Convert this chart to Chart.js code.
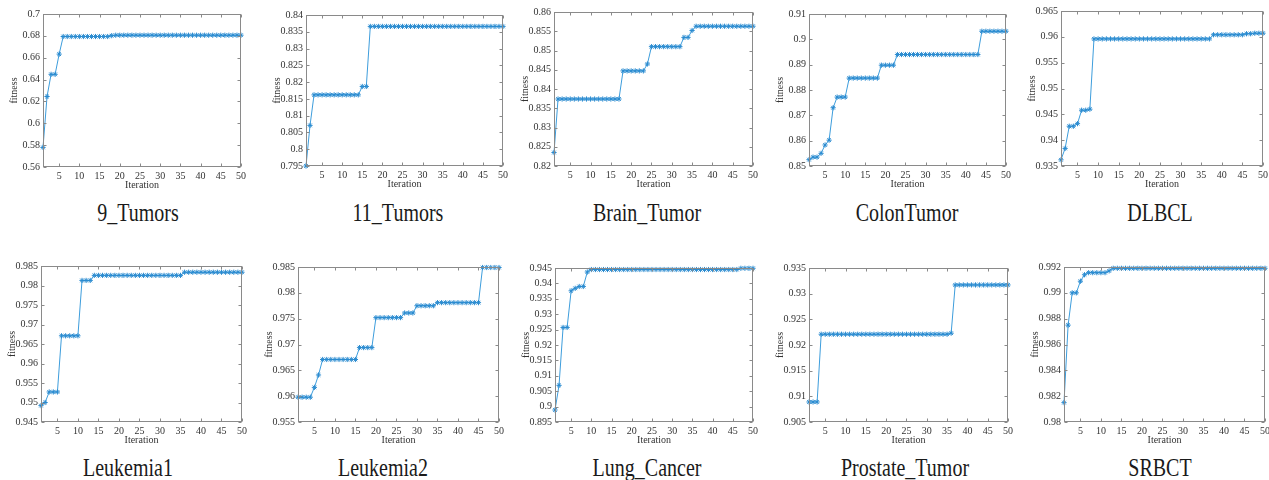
<!DOCTYPE html>
<html>
<head>
<meta charset="utf-8">
<script src="https://cdn.jsdelivr.net/npm/chart.js@4.4.1/dist/chart.umd.min.js"></script>
<style>
  html, body { margin: 0; padding: 0; background: #fff; }
  #wrap { position: relative; width: 1269px; height: 480px; overflow: hidden; }
  #wrap canvas { position: absolute; }
  .cap {
    position: absolute;
    font-family: "Liberation Serif", "Times New Roman", serif;
    font-size: 20px;
    color: #1a1a1a;
    white-space: nowrap;
    transform: translate(-50%, -50%) scaleY(1.3);
  }
</style>
</head>
<body>
<div id="wrap"></div>
<script>
// iterations (x axis)
const iterations = [1, 2, 3, 4, 5, 6, 7, 8, 9, 10, 11, 12, 13, 14, 15, 16, 17, 18, 19, 20,
  21, 22, 23, 24, 25, 26, 27, 28, 29, 30, 31, 32, 33, 34, 35, 36, 37, 38, 39, 40,
  41, 42, 43, 44, 45, 46, 47, 48, 49, 50];
const xTicks = [5, 10, 15, 20, 25, 30, 35, 40, 45, 50];

// fitness per dataset
const nineTumors = [0.5779, 0.6245, 0.6448, 0.6448, 0.6633, 0.6794, 0.6794, 0.6794, 0.6794, 0.6794,
  0.6794, 0.6794, 0.6794, 0.6794, 0.6794, 0.6794, 0.6794, 0.6802, 0.6806, 0.6806,
  0.6806, 0.6806, 0.6806, 0.6806, 0.6806, 0.6806, 0.6806, 0.6806, 0.6806, 0.6806,
  0.6806, 0.6806, 0.6806, 0.6806, 0.6806, 0.6806, 0.6806, 0.6806, 0.6806, 0.6806,
  0.6806, 0.6806, 0.6806, 0.6806, 0.6806, 0.6806, 0.6806, 0.6806, 0.6806, 0.6806];
const elevenTumors = [0.795, 0.8071, 0.8162, 0.8162, 0.8162, 0.8162, 0.8162, 0.8162, 0.8162, 0.8162,
  0.8162, 0.8162, 0.8162, 0.8162, 0.8187, 0.8187, 0.8366, 0.8366, 0.8366, 0.8366,
  0.8366, 0.8366, 0.8366, 0.8366, 0.8366, 0.8366, 0.8366, 0.8366, 0.8366, 0.8366,
  0.8366, 0.8366, 0.8366, 0.8366, 0.8366, 0.8366, 0.8366, 0.8366, 0.8366, 0.8366,
  0.8366, 0.8366, 0.8366, 0.8366, 0.8366, 0.8366, 0.8366, 0.8366, 0.8366, 0.8366];
const brainTumor = [0.8235, 0.8374, 0.8374, 0.8374, 0.8374, 0.8374, 0.8374, 0.8374, 0.8374, 0.8374,
  0.8374, 0.8374, 0.8374, 0.8374, 0.8374, 0.8374, 0.8374, 0.8447, 0.8447, 0.8447,
  0.8447, 0.8447, 0.8447, 0.8465, 0.851, 0.851, 0.851, 0.851, 0.851, 0.851,
  0.851, 0.851, 0.8534, 0.8534, 0.8552, 0.8563, 0.8563, 0.8563, 0.8563, 0.8563,
  0.8563, 0.8563, 0.8563, 0.8563, 0.8563, 0.8563, 0.8563, 0.8563, 0.8563, 0.8563];
const colonTumor = [0.8525, 0.8535, 0.8535, 0.855, 0.8583, 0.8602, 0.873, 0.8772, 0.8772, 0.8772,
  0.8847, 0.8847, 0.8847, 0.8847, 0.8847, 0.8847, 0.8847, 0.8847, 0.8898, 0.8898,
  0.8898, 0.8898, 0.894, 0.894, 0.894, 0.894, 0.894, 0.894, 0.894, 0.894,
  0.894, 0.894, 0.894, 0.894, 0.894, 0.894, 0.894, 0.894, 0.894, 0.894,
  0.894, 0.894, 0.894, 0.9032, 0.9032, 0.9032, 0.9032, 0.9032, 0.9032, 0.9032];
const dlbcl = [0.9362, 0.9384, 0.9427, 0.9427, 0.9432, 0.9458, 0.9458, 0.946, 0.9596, 0.9596,
  0.9596, 0.9596, 0.9596, 0.9596, 0.9596, 0.9596, 0.9596, 0.9596, 0.9596, 0.9596,
  0.9596, 0.9596, 0.9596, 0.9596, 0.9596, 0.9596, 0.9596, 0.9596, 0.9596, 0.9596,
  0.9596, 0.9596, 0.9596, 0.9596, 0.9596, 0.9596, 0.9596, 0.9604, 0.9604, 0.9604,
  0.9604, 0.9604, 0.9604, 0.9604, 0.9604, 0.9606, 0.9606, 0.9607, 0.9607, 0.9607];
const leukemia1 = [0.9492, 0.95, 0.9527, 0.9527, 0.9527, 0.9671, 0.9671, 0.9671, 0.9671, 0.9671,
  0.9813, 0.9813, 0.9813, 0.9826, 0.9826, 0.9826, 0.9826, 0.9826, 0.9826, 0.9826,
  0.9826, 0.9826, 0.9826, 0.9826, 0.9826, 0.9826, 0.9826, 0.9826, 0.9826, 0.9826,
  0.9826, 0.9826, 0.9826, 0.9826, 0.9826, 0.9834, 0.9834, 0.9834, 0.9834, 0.9834,
  0.9834, 0.9834, 0.9834, 0.9834, 0.9834, 0.9834, 0.9834, 0.9834, 0.9834, 0.9834];
const leukemia2 = [0.9598, 0.9598, 0.9598, 0.9598, 0.9617, 0.9641, 0.9671, 0.9671, 0.9671, 0.9671,
  0.9671, 0.9671, 0.9671, 0.9671, 0.9671, 0.9694, 0.9694, 0.9694, 0.9694, 0.9752,
  0.9752, 0.9752, 0.9752, 0.9752, 0.9752, 0.9752, 0.9761, 0.9761, 0.9761, 0.9775,
  0.9775, 0.9775, 0.9775, 0.9775, 0.9781, 0.9781, 0.9781, 0.9781, 0.9781, 0.9781,
  0.9781, 0.9781, 0.9781, 0.9781, 0.9781, 0.9849, 0.9849, 0.9849, 0.9849, 0.9849];
const lungCancer = [0.8989, 0.9069, 0.9257, 0.9257, 0.9376, 0.9384, 0.939, 0.939, 0.9437, 0.9445,
  0.9445, 0.9445, 0.9445, 0.9445, 0.9445, 0.9445, 0.9445, 0.9445, 0.9445, 0.9445,
  0.9445, 0.9445, 0.9445, 0.9445, 0.9445, 0.9445, 0.9445, 0.9445, 0.9445, 0.9445,
  0.9445, 0.9445, 0.9445, 0.9445, 0.9445, 0.9445, 0.9445, 0.9445, 0.9445, 0.9445,
  0.9445, 0.9445, 0.9445, 0.9445, 0.9445, 0.9445, 0.9449, 0.9449, 0.9449, 0.9449];
const prostateTumor = [0.9089, 0.9089, 0.9089, 0.9221, 0.9221, 0.9221, 0.9221, 0.9221, 0.9221, 0.9221,
  0.9221, 0.9221, 0.9221, 0.9221, 0.9221, 0.9221, 0.9221, 0.9221, 0.9221, 0.9221,
  0.9221, 0.9221, 0.9221, 0.9221, 0.9221, 0.9221, 0.9221, 0.9221, 0.9221, 0.9221,
  0.9221, 0.9221, 0.9221, 0.9221, 0.9221, 0.9223, 0.9317, 0.9317, 0.9317, 0.9317,
  0.9317, 0.9317, 0.9317, 0.9317, 0.9317, 0.9317, 0.9317, 0.9317, 0.9317, 0.9317];
const srbct = [0.9815, 0.9875, 0.99, 0.99, 0.9909, 0.9914, 0.99156, 0.99156, 0.99156, 0.99156,
  0.99156, 0.9917, 0.9919, 0.9919, 0.9919, 0.9919, 0.9919, 0.9919, 0.9919, 0.9919,
  0.9919, 0.9919, 0.9919, 0.9919, 0.9919, 0.9919, 0.9919, 0.9919, 0.9919, 0.9919,
  0.9919, 0.9919, 0.9919, 0.9919, 0.9919, 0.9919, 0.9919, 0.9919, 0.9919, 0.9919,
  0.9919, 0.9919, 0.9919, 0.9919, 0.9919, 0.9919, 0.9919, 0.9919, 0.9919, 0.9919];

// y tick labels per panel
const yTicks9Tumors = [0.56, 0.58, 0.6, 0.62, 0.64, 0.66, 0.68, 0.7];
const yTicks11Tumors = [0.795, 0.8, 0.805, 0.81, 0.815, 0.82, 0.825, 0.83, 0.835, 0.84];
const yTicksBrain = [0.82, 0.825, 0.83, 0.835, 0.84, 0.845, 0.85, 0.855, 0.86];
const yTicksColon = [0.85, 0.86, 0.87, 0.88, 0.89, 0.9, 0.91];
const yTicksDlbcl = [0.935, 0.94, 0.945, 0.95, 0.955, 0.96, 0.965];
const yTicksLeuk1 = [0.945, 0.95, 0.955, 0.96, 0.965, 0.97, 0.975, 0.98, 0.985];
const yTicksLeuk2 = [0.955, 0.96, 0.965, 0.97, 0.975, 0.98, 0.985];
const yTicksLung = [0.895, 0.9, 0.905, 0.91, 0.915, 0.92, 0.925, 0.93, 0.935, 0.94, 0.945];
const yTicksProstate = [0.905, 0.91, 0.915, 0.92, 0.925, 0.93, 0.935];
const yTicksSrbct = [0.98, 0.982, 0.984, 0.986, 0.988, 0.99, 0.992];

const captions = ['9_Tumors', '11_Tumors', 'Brain_Tumor', 'ColonTumor', 'DLBCL',
  'Leukemia1', 'Leukemia2', 'Lung_Cancer', 'Prostate_Tumor', 'SRBCT'];

// layout: plot area [left, top, right, bottom] and caption centre
const panels = [
  { data: nineTumors,    yt: yTicks9Tumors,  box: [43, 11, 241, 167],   cap: [138, 213] },
  { data: elevenTumors,  yt: yTicks11Tumors, box: [306, 12, 503, 166],  cap: [398, 213] },
  { data: brainTumor,    yt: yTicksBrain,    box: [554, 9, 753, 166],   cap: [647, 213] },
  { data: colonTumor,    yt: yTicksColon,    box: [809, 11, 1006, 166], cap: [907, 213] },
  { data: dlbcl,         yt: yTicksDlbcl,    box: [1061, 8, 1263, 166], cap: [1160, 213] },
  { data: leukemia1,     yt: yTicksLeuk1,    box: [41, 263, 242, 422],  cap: [128, 468] },
  { data: leukemia2,     yt: yTicksLeuk2,    box: [298, 264, 499, 422], cap: [383, 468] },
  { data: lungCancer,    yt: yTicksLung,     box: [555, 265, 753, 422], cap: [647, 468] },
  { data: prostateTumor, yt: yTicksProstate, box: [809, 265, 1008, 422], cap: [905, 468] },
  { data: srbct,         yt: yTicksSrbct,    box: [1064, 264, 1265, 422], cap: [1160, 468] }
];

const lineColor = '#3d9ddc';
const frameColor = '#8a8a8a';
const textColor = '#333';
const axisFont = { family: '"Liberation Serif", "Times New Roman", serif', size: 10 };
const padL = 36, padT = 6, padR = 8, padB = 24;

// matlab style box with inward ticks on all four sides
const boxPlugin = {
  id: 'box',
  afterDraw(chart) {
    const { ctx, chartArea: a, scales: { x, y } } = chart;
    const l = Math.round(a.left) + 0.5, r = Math.round(a.right) - 0.5;
    const t = Math.round(a.top) + 0.5, b = Math.round(a.bottom) - 0.5;
    ctx.save();
    ctx.strokeStyle = frameColor;
    ctx.lineWidth = 1;
    ctx.strokeRect(l, t, r - l, b - t);
    ctx.beginPath();
    x.ticks.forEach(tk => {
      const px = Math.round(x.getPixelForValue(tk.value)) + 0.5;
      ctx.moveTo(px, b); ctx.lineTo(px, b - 3);
      ctx.moveTo(px, t); ctx.lineTo(px, t + 3);
    });
    y.ticks.forEach(tk => {
      const py = Math.round(y.getPixelForValue(tk.value)) + 0.5;
      ctx.moveTo(l, py); ctx.lineTo(l + 3, py);
      ctx.moveTo(r, py); ctx.lineTo(r - 3, py);
    });
    ctx.stroke();
    ctx.restore();
  }
};

const wrap = document.getElementById('wrap');

panels.forEach((p, i) => {
  const [L, T, R, B] = p.box;
  const cv = document.createElement('canvas');
  cv.width = (R - L) + padL + padR;
  cv.height = (B - T) + padT + padB;
  cv.style.left = (L - padL) + 'px';
  cv.style.top = (T - padT) + 'px';
  wrap.appendChild(cv);

  const cap = document.createElement('div');
  cap.className = 'cap';
  cap.textContent = captions[i];
  cap.style.left = p.cap[0] + 'px';
  cap.style.top = p.cap[1] + 'px';
  wrap.appendChild(cap);

  new Chart(cv, {
    type: 'line',
    data: {
      datasets: [{
        data: iterations.map((it, k) => ({ x: it, y: p.data[k] })),
        borderColor: lineColor,
        borderWidth: 1,
        tension: 0,
        pointStyle: 'star',
        pointRadius: 2.6,
        pointBorderWidth: 1,
        pointBorderColor: '#2a8bd0',
        pointBackgroundColor: '#2a8bd0',
        clip: false
      }]
    },
    options: {
      responsive: false,
      animation: false,
      events: [],
      layout: { padding: { top: padT, right: padR, left: 0, bottom: 0 } },
      plugins: { legend: { display: false }, tooltip: { enabled: false } },
      scales: {
        x: {
          type: 'linear',
          min: 1,
          max: 50,
          afterBuildTicks: s => { s.ticks = xTicks.map(v => ({ value: v })); },
          afterFit: s => { s.height = padB; },
          grid: { display: false, drawTicks: false, tickLength: 0 },
          border: { display: false },
          ticks: { font: axisFont, color: textColor, padding: 3, maxRotation: 0, autoSkip: false },
          title: { display: true, text: 'Iteration', font: axisFont, color: textColor, padding: { top: 0, bottom: 0 } }
        },
        y: {
          type: 'linear',
          min: p.yt[0],
          max: p.yt[p.yt.length - 1],
          afterBuildTicks: s => { s.ticks = p.yt.map(v => ({ value: v })); },
          afterFit: s => { s.width = padL; },
          grid: { display: false, drawTicks: false, tickLength: 0 },
          border: { display: false },
          ticks: { font: axisFont, color: textColor, padding: 3, autoSkip: false, callback: v => String(v) },
          title: { display: true, text: 'fitness', font: axisFont, color: textColor, padding: { top: 1, bottom: 0 } }
        }
      }
    },
    plugins: [boxPlugin]
  });
});
</script>
</body>
</html>
